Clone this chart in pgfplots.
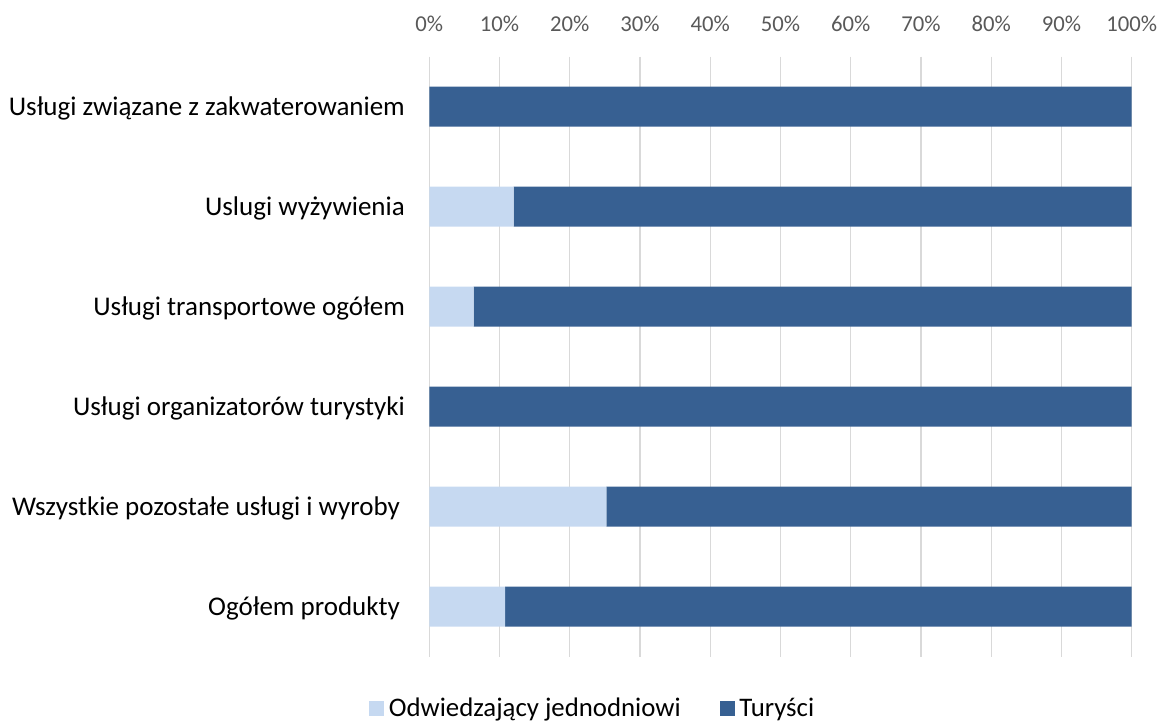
\documentclass[border=0pt]{standalone}
\usepackage{fontspec}
\setmainfont{Carlito}
\usepackage{pgfplots}
\pgfplotsset{compat=1.18}
\definecolor{lightbar}{HTML}{C6D9F1}
\definecolor{darkbar}{HTML}{376092}
\definecolor{gridgray}{HTML}{D9D9D9}
\definecolor{ticktext}{HTML}{595959}
\begin{document}
\begin{tikzpicture}
\useasboundingbox (-429.3pt,-65.3pt) rectangle (731.7pt,656.7pt);
\begin{axis}[
    at={(0pt,0pt)}, anchor=south west,
    scale only axis,
    width=702.4pt, height=600pt,
    xbar stacked, bar width=40pt,
    xmin=0, xmax=100,
    ymin=-0.5, ymax=5.5,
    y dir=reverse,
    ytick={0,1,2,3,4,5},
    yticklabels={
        Usługi związane z zakwaterowaniem,
        Uslugi wyżywienia,
        Usługi transportowe ogółem,
        Usługi organizatorów turystyki,
        Wszystkie pozostałe usługi i wyroby\kern5pt,
        Ogółem produkty\kern5pt},
    xtick={0,10,20,30,40,50,60,70,80,90,100},
    xticklabels={0\%,10\%,20\%,30\%,40\%,50\%,60\%,70\%,80\%,90\%,100\%},
    xticklabel pos=upper,
    axis line style={draw=none},
    major tick style={draw=none},
    xmajorgrids,
    grid style={gridgray, line width=1.3pt},
    xticklabel style={font=\fontsize{22.7}{27}\selectfont, text=ticktext, anchor=base, inner sep=0pt, yshift=25pt},
    yticklabel style={font=\fontsize{27}{32}\selectfont, text=black, anchor=base east, inner sep=0pt, xshift=-24.3pt, yshift=-8.7pt},
    legend columns=2,
    legend style={draw=none, fill=none, at={(0.2345,-0.0855)}, anchor=center,
        font=\fontsize{26.8}{31}\selectfont,
        /tikz/every even column/.append style={column sep=34pt},
        nodes={inner xsep=4.8pt}},
    legend image code/.code={\fill[#1] (0pt,-8pt) rectangle (15pt,7pt);},
]
\addplot[fill=lightbar, draw=none] coordinates {
    (0,0) (12.0,1) (6.3,2) (0,3) (25.2,4) (10.8,5)
};
\addplot[fill=darkbar, draw=none] coordinates {
    (100,0) (88.0,1) (93.7,2) (100,3) (74.8,4) (89.2,5)
};
\legend{Odwiedzający jednodniowi, Turyści}
\end{axis}
\end{tikzpicture}
\end{document}
